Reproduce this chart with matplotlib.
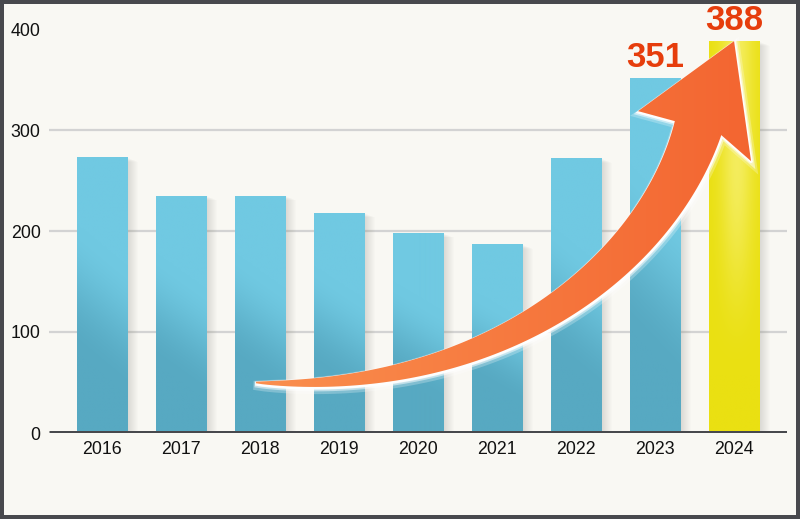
import numpy as np
import matplotlib
matplotlib.use("Agg")
import matplotlib.pyplot as plt
from matplotlib.patches import Rectangle, Polygon
from matplotlib.colors import to_rgb

plt.rcParams['font.family'] = ['Liberation Sans', 'DejaVu Sans']

# ---- data ----
years = ['2016', '2017', '2018', '2019', '2020', '2021', '2022', '2023', '2024']
values = [273, 235, 235, 218, 198, 187, 272, 351, 388]
labeled = {7: '351', 8: '388'}
yticks = [0, 100, 200, 300, 400]

BG = '#f9f8f3'
FRAME = '#48494d'
W, H = 800, 519

fig = plt.figure(figsize=(W / 100, H / 100), dpi=100, facecolor=FRAME)
fig.add_artist(Rectangle((4 / W, 4 / H), 792 / W, 511 / H, transform=fig.transFigure,
                         facecolor=BG, edgecolor='none', zorder=-10))
ax = fig.add_axes([49 / W, 86 / H, 738 / W, 404 / H])
ax.set_facecolor('none')
ax.set_xlim(-0.67, 8.67)
ax.set_ylim(0, 400)
for s in ax.spines.values():
    s.set_visible(False)

# grid
for yv in yticks[1:-1]:
    ax.axhline(yv, color='#d3d3d3', lw=1.6, zorder=0.5)

x = np.arange(len(years))
bw = 0.64
px_x = 1 / 79.0
px_y = 400 / 404.0

light = np.array(to_rgb('#70c9e2'))
dark = np.array(to_rgb('#57a9c2'))
ylw = np.array(to_rgb('#eae012'))
ylw_hi = np.array(to_rgb('#f6ef6a'))


def smooth(a, b, v):
    t = np.clip((v - a) / (b - a), 0, 1)
    return t * t * (3 - 2 * t)


for i, (xi, v) in enumerate(zip(x, values)):
    x0 = xi - bw / 2
    # soft shadow to the right
    for k in range(1, 12):
        ax.add_patch(Rectangle((x0 + k * px_x, 0), bw, v - k * 0.4 * px_y,
                               facecolor='#5a5448', edgecolor='none', alpha=0.014, zorder=1))
    rect = Rectangle((x0, 0), bw, v, facecolor='none', edgecolor='none', zorder=2)
    ax.add_patch(rect)
    ny, nx = 200, 40
    yy, xx = np.mgrid[0:ny, 0:nx]
    yf = 1 - yy / (ny - 1)  # top row = 1
    xf = xx / (nx - 1)
    if i == len(values) - 1:
        hi = np.exp(-((xf - 0.55) / 0.32) ** 2) * smooth(0.15, 0.7, yf) * 0.85
        img = ylw[None, None, :] * (1 - hi[..., None]) + ylw_hi[None, None, :] * hi[..., None]
    else:
        s = yf + 0.15 * (xf - 0.5)
        t = smooth(0.22, 0.68, s)
        img = dark[None, None, :] * (1 - t[..., None]) + light[None, None, :] * t[..., None]
    im = ax.imshow(img, extent=(x0, x0 + bw, 0, v), aspect='auto', zorder=2,
                   interpolation='bilinear')
    im.set_clip_path(rect)

# axis line
ax.axhline(0, color=FRAME, lw=3.6, zorder=3, solid_capstyle='butt')

ax.set_xticks(x)
ax.set_xticklabels(years)
ax.set_yticks(yticks)
ax.set_yticklabels([str(t) for t in yticks])
ax.tick_params(axis='both', length=0, labelsize=12.8, labelcolor='#111111')
ax.tick_params(axis='x', pad=6)
ax.tick_params(axis='y', pad=6)

# value labels
for i, txt in labeled.items():
    ax.annotate(txt, (x[i], values[i]), xytext=(0, 3), textcoords='offset points',
                ha='center', va='bottom', fontsize=25, fontweight='bold',
                color='#e63d0c', zorder=8, annotation_clip=False)

# ---- curved arrow anchored from 2018 (~50) to the 2024 value ----
def to_screen(pt):
    d = ax.transData.transform(pt)
    return np.array([d[0], H - d[1]])


def to_data(pts):
    d = np.column_stack([pts[:, 0], H - pts[:, 1]])
    return ax.transData.inverted().transform(d)


tail = to_screen((x[2] - 0.05, 50))
tip = to_screen((x[8], values[8]))
P0 = tail
P3 = tip + np.array([-36, 87])
P1 = P0 + np.array([243, 12])
P2 = P3 + np.array([-40, 133])
ts = np.linspace(0, 1, 120)[:, None]
B = (1 - ts) ** 3 * P0 + 3 * (1 - ts) ** 2 * ts * P1 + 3 * (1 - ts) * ts ** 2 * P2 + ts ** 3 * P3
dB = 3 * (1 - ts) ** 2 * (P1 - P0) + 6 * (1 - ts) * ts * (P2 - P1) + 3 * ts ** 2 * (P3 - P2)
tn = dB / np.linalg.norm(dB, axis=1, keepdims=True)
nrm = np.column_stack([-tn[:, 1], tn[:, 0]])
wd = 1.5 + 47 * ts[:, 0] ** 0.75
right = B + nrm * wd[:, None] / 2
left = B - nrm * wd[:, None] / 2
rbarb = tip + np.array([17, 120])
lbarb = tip + np.array([-96, 70])
poly_s = np.vstack([right, rbarb, tip, lbarb, left[::-1]])

# white glow (mostly below / right)
for off, lw, a in [((1.5, 3), 6, 0.25), ((1, 2), 3.5, 0.5), ((0.5, 1.2), 2, 0.9)]:
    pg = Polygon(to_data(poly_s + np.array(off)), closed=True, facecolor='white',
                 edgecolor='white', lw=lw, alpha=a, zorder=4, clip_on=False)
    ax.add_patch(pg)

poly = Polygon(to_data(poly_s), closed=True, facecolor='none', edgecolor='none', zorder=5)
ax.add_patch(poly)
xs0, ys0 = poly_s.min(axis=0)
xs1, ys1 = poly_s.max(axis=0)
gy, gx = np.mgrid[0:150, 0:200]
sx = xs0 + gx / 199 * (xs1 - xs0)
sy = ys0 + gy / 149 * (ys1 - ys0)
u = np.clip((sx - xs0) / (xs1 - xs0), 0, 1)
c0 = np.array(to_rgb('#fb9452'))
c1 = np.array(to_rgb('#f2602d'))
tt = np.clip(0.8 * u + 0.1, 0, 1)
gimg = c0[None, None, :] * (1 - tt[..., None]) + c1[None, None, :] * tt[..., None]
dlo = to_data(np.array([[xs0, ys1]]))[0]
dhi = to_data(np.array([[xs1, ys0]]))[0]
gim = ax.imshow(gimg, extent=(dlo[0], dhi[0], dlo[1], dhi[1]), aspect='auto', zorder=5,
                interpolation='bilinear')
gim.set_clip_path(poly)

ax.set_xlim(-0.67, 8.67)
ax.set_ylim(0, 400)
fig.savefig('out.png', dpi=100, facecolor=FRAME)
